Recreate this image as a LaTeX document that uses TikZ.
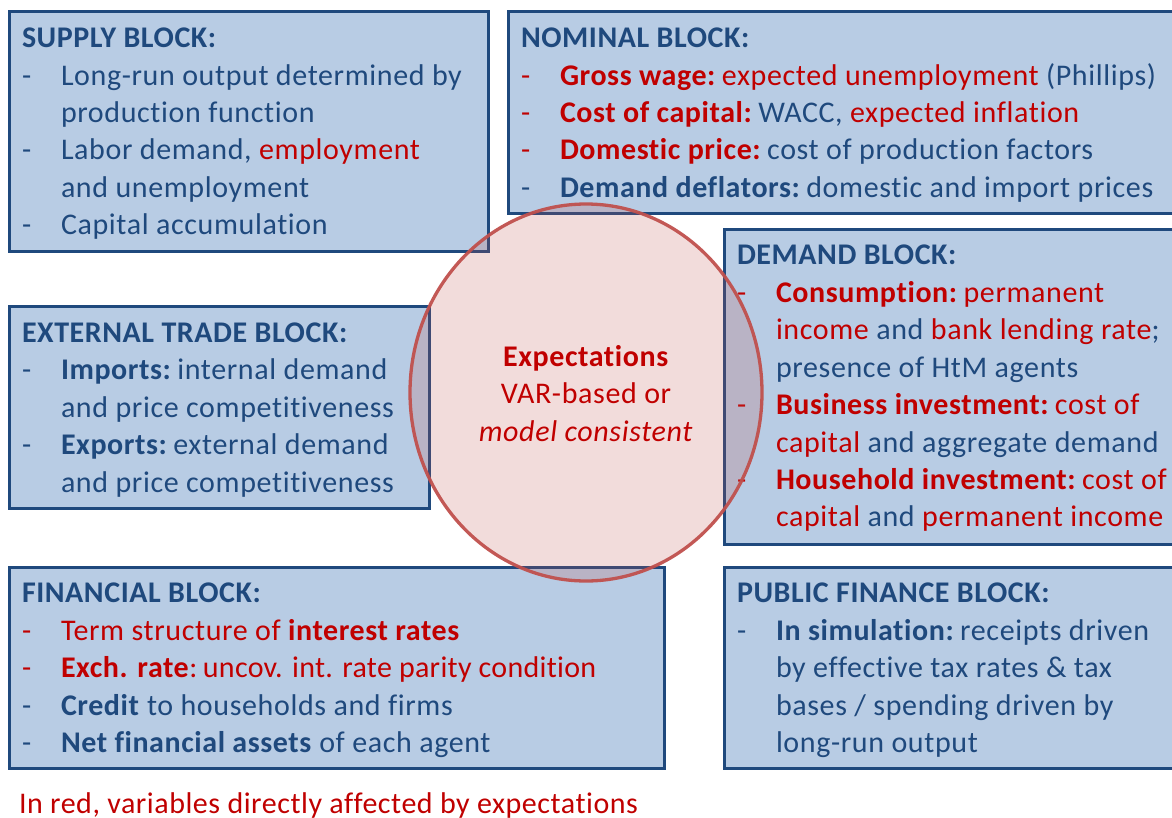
\documentclass[tikz,border=0pt]{standalone}
\usepackage{fontspec}
\setmainfont[LetterSpace=2.1,Ligatures=NoCommon,BoldFeatures={LetterSpace=1.9}]{Carlito}
\definecolor{bluetxt}{HTML}{1F497D}
\definecolor{redtxt}{HTML}{C00000}
\definecolor{boxfill}{HTML}{B8CCE4}
\definecolor{circ}{HTML}{C0504D}
\newcommand{\R}[1]{\textcolor{redtxt}{#1}}
\newcommand{\Bb}[1]{\textbf{#1}}
\newcommand{\RB}[1]{\textcolor{redtxt}{\textbf{#1}}}
\newcommand{\gapfix}{\hspace{-4pt}}
\newcommand{\lsp}[2]{{\addfontfeatures{LetterSpace=#1}#2}}
\tikzset{
  x=1pt,y=-1pt,
  blockbox/.style={draw=bluetxt,fill=boxfill,line width=3pt,rectangle,inner sep=0pt,outer sep=0pt,anchor=north west},
  linetext/.style={anchor=base west,inner sep=0pt,outer sep=0pt,text=bluetxt,font=\fontsize{30}{36}\selectfont},
  redline/.style={linetext,text=redtxt},
  centertext/.style={anchor=base,inner sep=0pt,outer sep=0pt,text=redtxt,font=\fontsize{30}{36}\selectfont},
  expcircle/.style={ellipse,draw=circ,line width=3.3pt,inner sep=0pt,outer sep=0pt,fill=circ,fill opacity=0.2,draw opacity=0.95}
}
\usetikzlibrary{shapes.geometric}
\newcommand{\tl}[4]{\node[linetext] (#1) at (#2,#3) {#4};}
\newcommand{\dl}[3]{\node[redline] (#1) at (#2,#3) {-};}
\newcommand{\db}[3]{\node[linetext] (#1) at (#2,#3) {-};}
\begin{document}
\begin{tikzpicture}
\useasboundingbox (0,0) rectangle (1172,817);
\node[blockbox,minimum width=478.3pt,minimum height=239.3pt] (supply) at (9.7,11.7) {};
\node[blockbox,minimum width=680pt,minimum height=201.3pt] (nominal) at (508,11.7) {};
\node[blockbox,minimum width=419.3pt,minimum height=201.3pt] (external) at (9.7,306.7) {};
\node[blockbox,minimum width=470pt,minimum height=315pt] (demand) at (724,229) {};
\node[blockbox,minimum width=655pt,minimum height=201.3pt] (financial) at (9.7,567) {};
\node[blockbox,minimum width=470pt,minimum height=201.3pt] (public) at (724,567) {};
% supply
\tl{s0}{22}{47}{\Bb{SUPPLY BLOCK:}}
\db{sd1}{22}{85}\tl{s1}{61}{85}{Long-run output determined by}
\tl{s2}{61}{122}{production function}
\db{sd2}{22}{159}\tl{s3}{61}{159}{Labor demand, \R{employment}}
\tl{s4}{61}{197}{and unemployment}
\db{sd3}{22}{234}\tl{s5}{61}{234}{Capital accumulation}
% nominal
\tl{n0}{521}{47}{\Bb{NOMINAL BLOCK:}}
\dl{nd1}{521}{85}\tl{n1}{560}{85}{\RB{Gross wage:} \gapfix\R{expected unemployment} (Phillips)}
\dl{nd2}{521}{122}\tl{n2}{560}{122}{\RB{Cost of capital:} \gapfix WACC, \R{expected inflation}}
\dl{nd3}{521}{159}\tl{n3}{560}{159}{\RB{Domestic price:} \gapfix cost of production factors}
\db{nd4}{521}{197}\tl{n4}{560}{197}{\Bb{Demand deflators:} \gapfix domestic and import prices}
% external
\tl{e0}{22}{342}{\Bb{EXTERNAL TRADE BLOCK:}}
\db{ed1}{22}{379}\tl{e1}{61}{379}{\Bb{Imports:} \gapfix internal demand}
\tl{e2}{61}{417}{and price competitiveness}
\db{ed2}{22}{454}\tl{e3}{61}{454}{\Bb{Exports:} \gapfix external demand}
\tl{e4}{61}{492}{and price competitiveness}
% demand
\tl{d0}{737}{264}{\Bb{DEMAND BLOCK:}}
\dl{dd1}{737}{302}\tl{d1}{776}{302}{\RB{Consumption:} \gapfix\R{permanent}}
\tl{d2}{776}{339}{\R{income} and \R{bank lending rate};}
\tl{d3}{776}{377}{presence of HtM agents}
\dl{dd2}{737}{414}\tl{d4}{776}{414}{\RB{Business investment:} \gapfix\R{cost of}}
\tl{d5}{776}{452}{\R{capital} and aggregate demand}
\dl{dd3}{737}{489}\tl{d6}{776}{489}{\RB{Household investment:} \gapfix\R{cost of}}
\tl{d7}{776}{526}{\R{capital} and \R{permanent income}}
% financial
\tl{f0}{22}{602}{\Bb{FINANCIAL BLOCK:}}
\dl{fd1}{22}{640}\tl{f1}{61}{640}{\R{Term structure of }\RB{interest rates}}
\dl{fd2}{22}{677}\tl{f2}{61}{677}{\textcolor{redtxt}{\textbf{\lsp{5}{Exch. rate}}}\R{\lsp{1.0}{:\hspace{-4pt} uncov. int. rate parity condition}}}
\db{fd3}{22}{715}\tl{f3}{61}{715}{\Bb{Credit} to households and firms}
\db{fd4}{22}{752}\tl{f4}{61}{752}{\Bb{Net financial assets} of each agent}
% public
\tl{p0}{737}{602}{\Bb{PUBLIC FINANCE BLOCK:}}
\db{pd1}{737}{640}\tl{p1}{776}{640}{\Bb{In simulation:} \gapfix receipts driven}
\tl{p2}{776}{677}{by effective tax rates \& tax}
\tl{p3}{776}{715}{bases / spending driven by}
\tl{p4}{776}{752}{long-run output}
% circle
\node[expcircle,minimum width=352pt,minimum height=377pt] (exp) at (586,392.5) {};
\node[centertext] (c1) at (586,366) {\textbf{Expectations}};
\node[centertext] (c2) at (586,403) {VAR-based or};
\node[centertext] (c3) at (586,441) {\textit{model consistent}};
\node[redline] (note) at (19,813) {\lsp{1.8}{In red, variables directly affected by expectations}};
\end{tikzpicture}
\end{document}
